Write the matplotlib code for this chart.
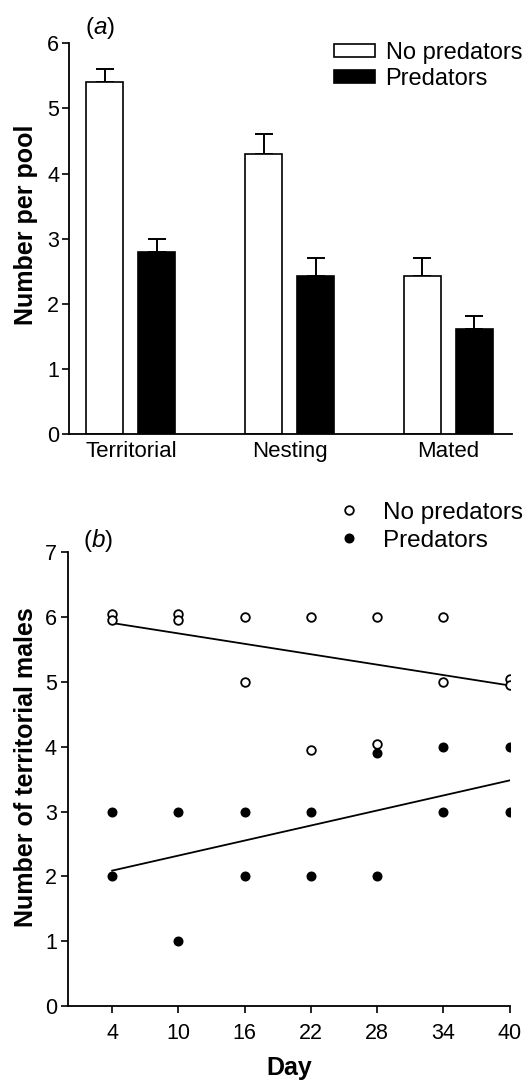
import numpy as np
import matplotlib
matplotlib.use('Agg')
import matplotlib.pyplot as plt

plt.rcParams['font.family'] = ['Liberation Sans', 'DejaVu Sans']
plt.rcParams['mathtext.fontset'] = 'custom'
plt.rcParams['mathtext.rm'] = 'Liberation Sans'
plt.rcParams['mathtext.it'] = 'Liberation Sans:italic'

# (a) mean number per pool, with upward error bars
categories = ['Territorial', 'Nesting', 'Mated']
no_pred_mean = [5.4, 4.3, 2.42]
no_pred_err = [0.2, 0.3, 0.28]
pred_mean = [2.8, 2.42, 1.62]
pred_err = [0.2, 0.28, 0.19]

# (b) territorial males per pool by day (two pools per treatment)
days_no_pred = [4, 4, 10, 10, 16, 16, 22, 22, 28, 28, 34, 34, 40, 40]
males_no_pred = [6.05, 5.95, 6.05, 5.95, 6, 5, 6, 3.95, 6, 4.05, 6, 5, 5.05, 4.95]
days_pred = [4, 4, 10, 10, 16, 16, 22, 22, 28, 28, 34, 34, 40, 40]
males_pred = [3, 2, 3, 1, 3, 2, 3, 2, 3.9, 2, 4, 3, 4, 3]
day_ticks = [4, 10, 16, 22, 28, 34, 40]

fig = plt.figure(figsize=(5.31, 10.8), dpi=100)

# ---- panel (a)
ax1 = fig.add_axes([0.130, 0.598, 0.834, 0.362])
x = np.arange(len(categories))
w = 0.233
off = 0.164
ax1.bar(x - off, no_pred_mean, w, color='white', edgecolor='black',
        linewidth=1.2, label='No predators', zorder=2)
ax1.bar(x + off, pred_mean, w, color='black', edgecolor='black',
        linewidth=1.2, label='Predators', zorder=2)
ax1.errorbar(x - off, no_pred_mean, yerr=[np.zeros(3), no_pred_err],
             fmt='none', ecolor='black', elinewidth=1.4, capsize=6.5,
             capthick=1.4, zorder=1)
ax1.errorbar(x + off, pred_mean, yerr=[np.zeros(3), pred_err],
             fmt='none', ecolor='black', elinewidth=1.4, capsize=6.5,
             capthick=1.4, zorder=1)
ax1.set_xlim(-0.39, 2.40)
ax1.set_ylim(0, 6)
ax1.set_xticks(x)
ax1.set_xticklabels(categories, fontsize=16)
ax1.tick_params(axis='x', length=0, pad=5)
ax1.set_yticks(range(0, 7))
ax1.tick_params(axis='y', labelsize=15.5, length=5, width=1.2, pad=2)
ax1.set_ylabel('Number per pool', fontsize=18, fontweight='bold')
ax1.yaxis.set_label_coords(-0.07, 0.536)
for s in ['top', 'right']:
    ax1.spines[s].set_visible(False)
for s in ['left', 'bottom']:
    ax1.spines[s].set_linewidth(1.3)
ax1.legend(loc='upper right', bbox_to_anchor=(1.023, 1.003, 0, 0),
           bbox_transform=ax1.transAxes, frameon=False, fontsize=17,
           handlelength=1.75, handleheight=0.45, handletextpad=0.45,
           labelspacing=0.15, borderaxespad=0, borderpad=0)
fig.text(85 / 531, 1 - 28 / 1080, r'($\mathit{a}$)', fontsize=17.5,
         va='center')

# ---- panel (b)
ax2 = fig.add_axes([0.128, 0.0685, 0.832, 0.420])
ax2.plot(days_no_pred, males_no_pred, 'o', ms=6.2, mfc='white',
         mec='black', mew=1.3, label='No predators', zorder=3)
ax2.plot(days_pred, males_pred, 'o', ms=6.2, mfc='black',
         mec='black', label='Predators', zorder=3)

# least-squares lines through the whole-number counts
xs = np.array([4, 40])
for d, m in [(days_no_pred, males_no_pred), (days_pred, males_pred)]:
    k, b = np.polyfit(d, np.round(m), 1)
    ax2.plot(xs, k * xs + b, color='black', lw=1.3, zorder=2)

ax2.set_xlim(0, 40)
ax2.set_ylim(0, 7)
ax2.set_xticks(day_ticks)
ax2.set_yticks(range(0, 8))
ax2.tick_params(axis='both', labelsize=15.5, length=5, width=1.2, pad=3)
ax2.tick_params(axis='x', pad=7)
ax2.set_xlabel('Day', fontsize=18, fontweight='bold', labelpad=9)
ax2.set_ylabel('Number of territorial males', fontsize=18,
               fontweight='bold')
ax2.yaxis.set_label_coords(-0.068, 0.526)
for s in ['top', 'right']:
    ax2.spines[s].set_visible(False)
for s in ['left', 'bottom']:
    ax2.spines[s].set_linewidth(1.3)
ax2.legend(loc='upper right', bbox_to_anchor=(1.03, 1.112, 0, 0),
           bbox_transform=ax2.transAxes, frameon=False, fontsize=17.5,
           handlelength=0.8, handletextpad=1.0, labelspacing=0.25,
           borderaxespad=0, borderpad=0)
fig.text(83 / 531, 1 - 540 / 1080, r'($\mathit{b}$)', fontsize=17.5,
         va='center')

fig.savefig('out.png', dpi=100)
